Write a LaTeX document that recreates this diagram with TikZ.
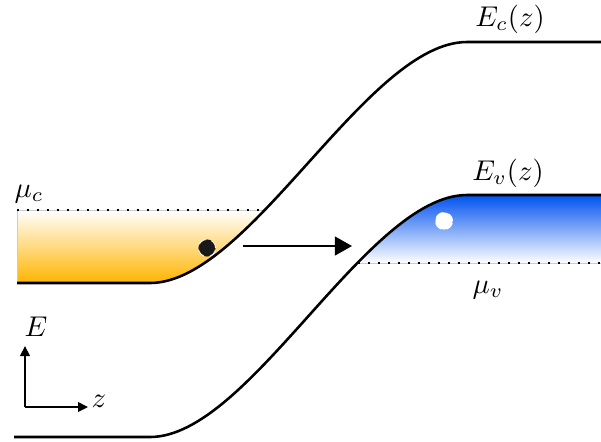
\documentclass[tikz,border=0pt]{standalone}
\usepackage{amsmath}
\usepackage{xcolor}
\usepackage{tikz}
\usetikzlibrary{arrows.meta, positioning, calc}
\definecolor{condorange}{RGB}{255,181,0}
\definecolor{valblue}{RGB}{0,82,240}

\begin{document}
\begin{tikzpicture}[x=0.35pt,y=-0.35pt,
  band/.style={line width=0.9pt},
  fermi/.style={line width=0.6pt, dash pattern=on 0.6pt off 2.9pt},
  carrier/.style={circle, inner sep=0pt, minimum size=6pt, draw=white, densely dashed, line width=0.3pt}]
  \useasboundingbox (0,0) rectangle (601,441);

  % Conduction band edge (left flat, step up, right flat)
  \coordinate (Cl) at (17,283);
  \coordinate (Ca) at (150,283);
  \coordinate (Cb) at (467,42);
  \coordinate (Cr) at (601,42);
  % Valence band edge: same step, shifted down
  \coordinate (Vl) at (14,437);
  \coordinate (Va) at (150,437);
  \coordinate (Vb) at (467,195);
  \coordinate (Vr) at (601,195);

  % Filled electron states below mu_c
  \begin{scope}
    \clip (Cl) -- (Ca) .. controls (250,283) and (367,42) .. (Cb) -- (17,42) -- cycle;
    \shade[top color=white, bottom color=condorange] (17,210) rectangle (300,283);
  \end{scope}
  % Empty states (holes) above mu_v
  \begin{scope}
    \clip (Va) .. controls (250,437) and (367,195) .. (Vb) -- (Vr) -- (601,441) -- (150,441) -- cycle;
    \shade[top color=valblue, bottom color=white] (300,195) rectangle (601,263);
  \end{scope}

  % Chemical potentials
  \coordinate (mc0) at (17,210);
  \coordinate (mc1) at (265,210);
  \coordinate (mv0) at (358,263);
  \coordinate (mv1) at (601,263);
  \draw[gray!40, line width=0.3pt] (Cl) -- (mc0) -- (mc1);
  \draw[gray!40, line width=0.3pt] (mv0) -- (mv1);
  \draw[fermi] (mc0) -- (mc1);
  \draw[fermi] (mv0) -- (mv1);

  % Band edges
  \draw[band] (Cl) -- (Ca) .. controls (250,283) and (367,42) .. (Cb) -- (Cr);
  \draw[band] (Vl) -- (Va) .. controls (250,437) and (367,195) .. (Vb) -- (Vr);

  % Electron and hole
  \node[carrier, fill=black!90] (elec) at (207,248) {};
  \node[carrier, fill=white] (hole) at (444,221) {};

  % Tunnelling
  \coordinate (tun0) at (243,246);
  \coordinate (tun1) at (352,246);
  \draw[line width=0.7pt, -{Triangle[length=6pt,width=6.6pt]}] (tun0) -- (tun1);

  % Labels
  \node (lEc) at (510,19) {$E_c(z)$};
  \node (lEv) at (508,173) {$E_v(z)$};
  \node (lmuc) at (29,194) {$\mu_c$};
  \node (lmuv) at (488,290) {$\mu_v$};

  % Axes
  \coordinate (O) at (25,407);
  \coordinate (Etip) at (25,346);
  \coordinate (ztip) at (88,407);
  \draw[line width=0.45pt, -{Triangle[length=3.5pt,width=3.4pt]}] (O) -- (Etip);
  \draw[line width=0.45pt, -{Triangle[length=3.5pt,width=3.4pt]}] (O) -- (ztip);
  \node (lE) at (36,327) {$E$};
  \node (lz) at (99,401) {$z$};
\end{tikzpicture}
\end{document}
